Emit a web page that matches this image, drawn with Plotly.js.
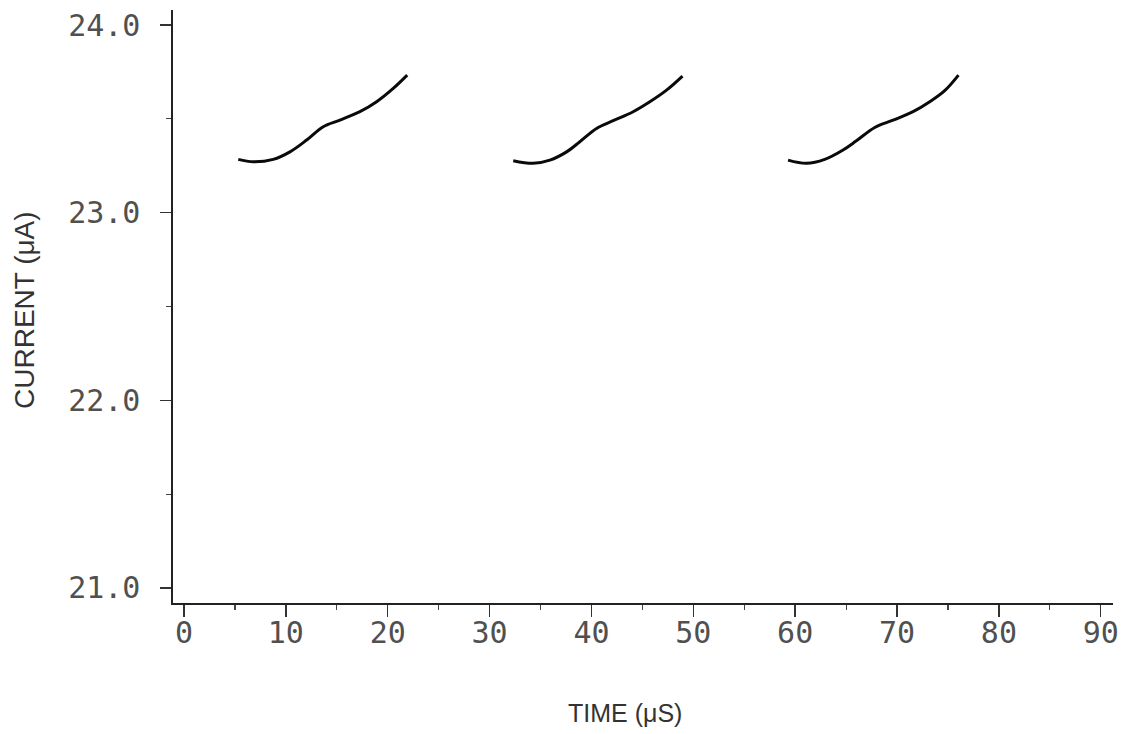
<!DOCTYPE html>
<html>
<head>
<meta charset="utf-8">
<script src="https://cdn.plot.ly/plotly-3.0.1.min.js"></script>
<style>html,body{margin:0;padding:0;background:#fff;}#chart{width:1138px;height:734px;}</style>
</head>
<body>
<div id="chart"></div>
<script>
// Time (µs) and current (µA) for the three pulse segments
const time1 = [5.33, 6.80, 8.76, 10.40, 12.04, 13.67, 15.31, 17.27, 18.91, 20.54, 21.91];
const current1 = [23.284, 23.271, 23.284, 23.324, 23.387, 23.458, 23.493, 23.538, 23.591, 23.662, 23.733];
const time2 = [32.32, 34.28, 35.92, 37.56, 38.86, 40.50, 42.13, 44.09, 45.73, 47.37, 48.94];
const current2 = [23.277, 23.263, 23.280, 23.324, 23.378, 23.449, 23.490, 23.538, 23.591, 23.653, 23.728];
const time3 = [59.30, 61.11, 62.90, 64.70, 66.01, 67.81, 69.61, 71.57, 73.21, 74.68, 76.03];
const current3 = [23.280, 23.263, 23.284, 23.334, 23.383, 23.454, 23.493, 23.538, 23.591, 23.650, 23.733];

const xTickVals = [0, 10, 20, 30, 40, 50, 60, 70, 80, 90];
const xTickText = ["0", "10", "20", "30", "40", "50", "60", "70", "80", "90"];
const yTickVals = [21, 22, 23, 24];
const yTickText = ["21.0", "22.0", "23.0", "24.0"];

const lineStyle = {color: '#0a0a0a', width: 3, shape: 'spline', smoothing: 1};
const traces = [
  {x: time1, y: current1, mode: 'lines', line: lineStyle, hoverinfo: 'x+y'},
  {x: time2, y: current2, mode: 'lines', line: lineStyle, hoverinfo: 'x+y'},
  {x: time3, y: current3, mode: 'lines', line: lineStyle, hoverinfo: 'x+y'}
];

const tickFont = {family: 'DejaVu Sans Mono, monospace', size: 30, color: '#505050'};

const layout = {
  width: 1138, height: 734,
  margin: {l: 173, r: 25, t: 10, b: 131, pad: 0},
  paper_bgcolor: '#fff', plot_bgcolor: '#fff',
  showlegend: false,
  xaxis: {
    range: [-1.08, 91.2], showgrid: false, zeroline: false,
    showline: true, linecolor: '#222', linewidth: 1.6,
    tickmode: 'array', tickvals: xTickVals, ticktext: xTickText,
    ticks: 'outside', ticklen: 12, tickwidth: 1.4, tickcolor: '#333',
    minor: {dtick: 5, tick0: 0, ticks: 'outside', ticklen: 5, tickwidth: 1.2, tickcolor: '#444', showgrid: false},
    tickfont: tickFont, ticklabelstandoff: -10
  },
  yaxis: {
    range: [20.92, 24.08], showgrid: false, zeroline: false,
    showline: true, linecolor: '#222', linewidth: 1.6,
    tickmode: 'array', tickvals: yTickVals, ticktext: yTickText,
    ticks: 'outside', ticklen: 11, tickwidth: 1.4, tickcolor: '#333',
    minor: {dtick: 0.5, tick0: 21, ticks: 'outside', ticklen: 5, tickwidth: 1.2, tickcolor: '#444', showgrid: false},
    tickfont: tickFont, ticklabelstandoff: 14
  },
  annotations: [
    {text: 'TIME (μS)', xref: 'paper', yref: 'paper', x: (625 - 173) / 940, y: -(713 - 603) / 593,
     xanchor: 'center', yanchor: 'middle', showarrow: false,
     font: {family: 'Liberation Sans, Arial, sans-serif', size: 25, color: '#333'}},
    {text: 'CURRENT (μA)', xref: 'paper', yref: 'paper', x: -(173 - 24) / 940, y: (603 - 310) / 593,
     xanchor: 'center', yanchor: 'middle', textangle: -90, showarrow: false,
     font: {family: 'Liberation Sans, Arial, sans-serif', size: 28, color: '#333'}}
  ]
};

Plotly.newPlot('chart', traces, layout, {displayModeBar: false, staticPlot: true});
</script>
</body>
</html>
